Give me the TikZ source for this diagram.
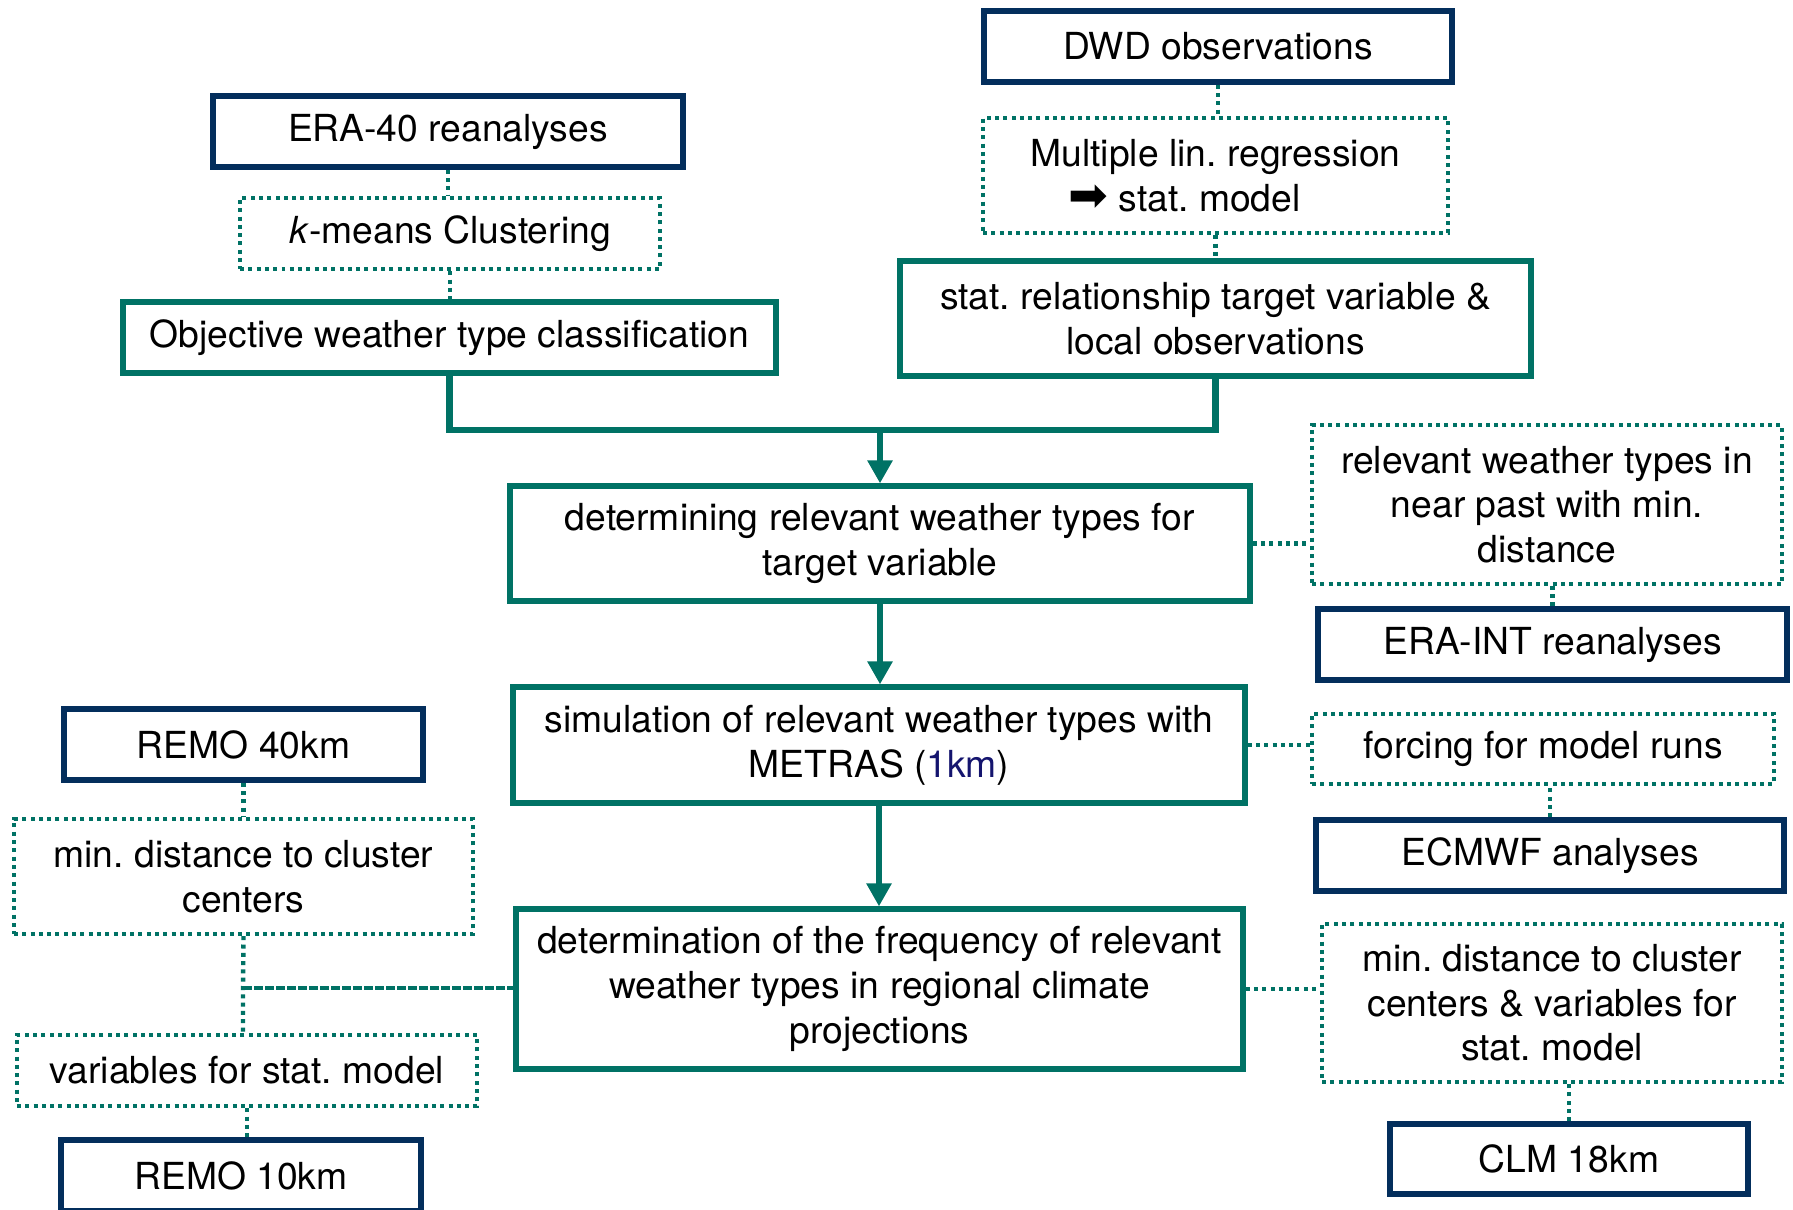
\documentclass[tikz,border=0pt]{standalone}
\usepackage{fontspec}
\setmainfont{TeX Gyre Heros}
\newfontfamily\symfont{DejaVu Sans}
\usetikzlibrary{arrows.meta, positioning, calc}
\definecolor{tealwt}{RGB}{0,114,101}
\definecolor{navywt}{RGB}{3,46,92}
\definecolor{kmblue}{RGB}{20,20,110}
\frenchspacing

\begin{document}
\begin{tikzpicture}[font=\fontsize{10.6}{12.7}\selectfont,
        navybox/.style={draw=navywt, line width=1.6pt, align=center, inner sep=0pt},
        tealbox/.style={draw=tealwt, line width=1.5pt, align=center, inner sep=0pt},
        dotbox/.style={draw=tealwt, line width=1.25pt, dash pattern=on 0.04cm off 0.043cm, align=center, inner sep=0pt},
        dotline/.style={tealwt, line width=1.25pt, dash pattern=on 0.04cm off 0.043cm},
        mainline/.style={tealwt, line width=1.9pt},
        mainarrow/.style={tealwt, line width=1.9pt, -{Triangle[width=0.24cm, length=0.23cm]}}]
                \useasboundingbox (0,0) rectangle (17.93,-12.09);
                % top left branch
                \node[navybox, minimum width=4.70cm, minimum height=0.71cm] (era40) at (4.48,-1.315) {ERA-40 reanalyses};
                \node[dotbox, minimum width=4.20cm, minimum height=0.71cm] (kmeans) at (4.50,-2.335) {\textit{k}-means Clustering};
                \node[tealbox, minimum width=6.53cm, minimum height=0.71cm] (objective) at (4.495,-3.375) {Objective weather type classification};
                % top right branch
                \node[navybox, minimum width=4.68cm, minimum height=0.71cm] (dwd) at (12.18,-0.465) {DWD observations};
                \node[dotbox, minimum width=4.65cm, minimum height=1.15cm] (regression) at (12.155,-1.755)
                    {Multiple lin. regression \\ {\fontsize{13.5}{12.7}\selectfont\symfont ➡}\ stat. model\hspace*{0.62cm}};
                \node[tealbox, minimum width=6.31cm, minimum height=1.15cm] (statrel) at (12.155,-3.185)
                    {stat. relationship target variable \& \\ local observations};
                % central chain
                \node[tealbox, minimum width=7.40cm, minimum height=1.15cm] (determining) at (8.80,-5.435)
                    {determining relevant weather types for \\ target variable};
                \node[tealbox, minimum width=7.32cm, minimum height=1.16cm] (simulation) at (8.79,-7.45)
                    {simulation of relevant weather types with \\ METRAS ({\color{kmblue}1km})};
                \node[tealbox, minimum width=7.27cm, minimum height=1.60cm] (frequency) at (8.795,-9.89)
                    {determination of the frequency of relevant \\ weather types in regional climate \\ projections};
                % right column
                \node[dotbox, minimum width=4.70cm, minimum height=1.59cm] (nearpast) at (15.47,-5.045)
                    {relevant weather types in \\ near past with min. \\ distance};
                \node[navybox, minimum width=4.69cm, minimum height=0.71cm] (eraint) at (15.525,-6.445) {ERA-INT reanalyses};
                \node[dotbox, minimum width=4.62cm, minimum height=0.70cm] (forcing) at (15.43,-7.49) {forcing for model runs};
                \node[navybox, minimum width=4.68cm, minimum height=0.71cm] (ecmwf) at (15.50,-8.555) {ECMWF analyses};
                \node[dotbox, minimum width=4.60cm, minimum height=1.58cm] (mindistr) at (15.52,-10.03)
                    {min. distance to cluster \\ centers \& variables for \\ stat. model};
                \node[navybox, minimum width=3.58cm, minimum height=0.70cm] (clm) at (15.69,-11.59) {CLM 18km};
                % left column
                \node[navybox, minimum width=3.59cm, minimum height=0.71cm] (remo40) at (2.435,-7.445) {REMO 40km};
                \node[dotbox, minimum width=4.59cm, minimum height=1.15cm] (mindistl) at (2.435,-8.765)
                    {min. distance to cluster \\ centers};
                \node[dotbox, minimum width=4.60cm, minimum height=0.71cm] (variables) at (2.47,-10.705) {variables for stat. model};
                \node[navybox, minimum width=3.60cm, minimum height=0.71cm] (remo10) at (2.41,-11.755) {REMO 10km};
                % connectors
                \coordinate (merge) at (determining.north |- 0,-4.30);
                \coordinate (leftjoin) at (2.43,-9.88);
                \draw[dotline] (era40.south) -- (era40.south |- kmeans.north);
                \draw[dotline] (kmeans.south) -- (kmeans.south |- objective.north);
                \draw[dotline] (dwd.south) -- (dwd.south |- regression.north);
                \draw[dotline] (regression.south) -- (regression.south |- statrel.north);
                \draw[mainline] (objective.south) |- (merge) -| (statrel.south);
                \draw[mainarrow] (merge) -- (determining.north);
                \draw[mainarrow] (determining.south) -- (determining.south |- simulation.north);
                \draw[mainarrow] (simulation.south) -- (simulation.south |- frequency.north);
                \draw[dotline] (determining.east) -- (nearpast.west |- determining.east);
                \draw[dotline] (eraint.north) -- (eraint.north |- nearpast.south);
                \draw[dotline] (simulation.east) -- (forcing.west |- simulation.east);
                \draw[dotline] (ecmwf.north) -- (ecmwf.north |- forcing.south);
                \draw[dotline] (frequency.east) -- (mindistr.west |- frequency.east);
                \draw[dotline] (clm.north) -- (clm.north |- mindistr.south);
                \draw[dotline] (remo40.south) -- (remo40.south |- mindistl.north);
                \draw[dotline] (mindistl.south) -- (leftjoin) -- (leftjoin |- variables.north);
                \draw[tealwt, line width=1.25pt, dash pattern=on 0.09cm off 0.02cm] (leftjoin) -- (leftjoin -| frequency.west);
                \draw[dotline] (variables.south) -- (variables.south |- remo10.north);
            \end{tikzpicture}
\end{document}
